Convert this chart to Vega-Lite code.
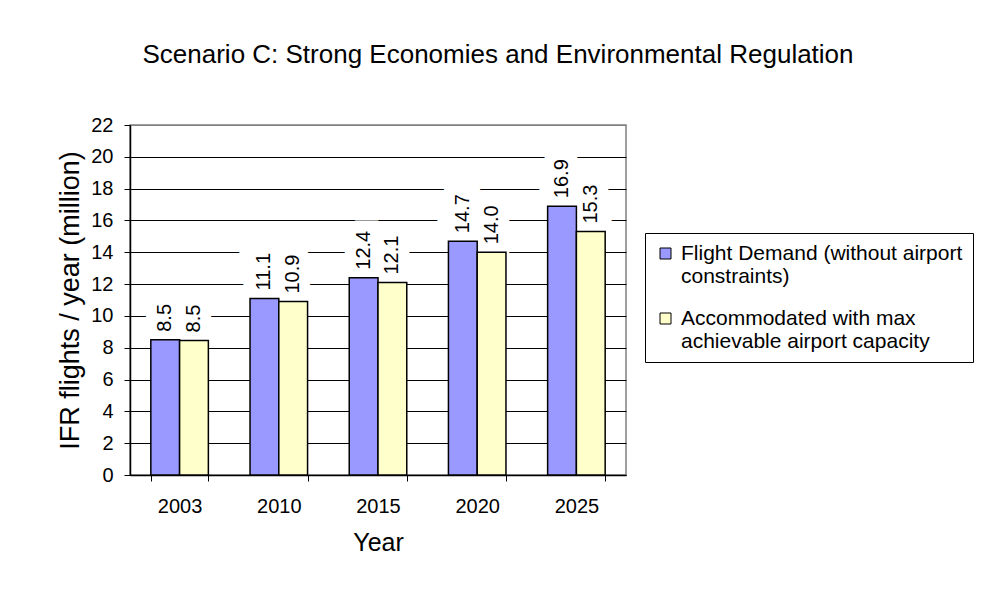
{
  "$schema": "https://vega.github.io/schema/vega-lite/v6.json",
  "width": 496,
  "height": 350,
  "autosize": {"type": "none"},
  "padding": {"left": 130, "top": 125, "right": 358, "bottom": 131},
  "background": "white",
  "title": {
    "text": "Scenario C: Strong Economies and Environmental Regulation",
    "font": "Liberation Sans",
    "fontSize": 26,
    "fontWeight": "normal",
    "color": "black",
    "anchor": "middle",
    "dx": 120,
    "offset": 47
  },
  "config": {
    "view": {"stroke": "#808080", "strokeWidth": 1.5},
    "font": "Liberation Sans"
  },
  "data": {
    "values": [
      {"year": "2003", "series": "Flight Demand (without airport constraints)", "value": 8.5},
      {"year": "2003", "series": "Accommodated with max achievable airport capacity", "value": 8.46},
      {"year": "2010", "series": "Flight Demand (without airport constraints)", "value": 11.1},
      {"year": "2010", "series": "Accommodated with max achievable airport capacity", "value": 10.9},
      {"year": "2015", "series": "Flight Demand (without airport constraints)", "value": 12.4},
      {"year": "2015", "series": "Accommodated with max achievable airport capacity", "value": 12.1},
      {"year": "2020", "series": "Flight Demand (without airport constraints)", "value": 14.7},
      {"year": "2020", "series": "Accommodated with max achievable airport capacity", "value": 14.0},
      {"year": "2025", "series": "Flight Demand (without airport constraints)", "value": 16.9},
      {"year": "2025", "series": "Accommodated with max achievable airport capacity", "value": 15.3}
    ]
  },
  "encoding": {
    "x": {
      "field": "year",
      "type": "nominal",
      "scale": {"paddingInner": 0.42, "paddingOuter": 0.21},
      "axis": {
        "title": "Year",
        "titleFont": "Liberation Sans",
        "titleFontSize": 25,
        "titleFontWeight": "normal",
        "titleColor": "black",
        "titlePadding": 14,
        "labelAngle": 0,
        "labelFont": "Liberation Sans",
        "labelFontSize": 20,
        "labelColor": "black",
        "labelPadding": 15,
        "tickBand": "extent",
        "tickColor": "black",
        "tickSize": 6,
        "domainColor": "black",
        "domainWidth": 1.5,
        "grid": false
      }
    },
    "xOffset": {
      "field": "series",
      "type": "nominal",
      "sort": ["Flight Demand (without airport constraints)", "Accommodated with max achievable airport capacity"],
      "scale": {"paddingInner": 0, "paddingOuter": 0}
    },
    "y": {
      "field": "value",
      "type": "quantitative",
      "scale": {"domain": [0, 22], "nice": false},
      "axis": {
        "title": "IFR flights / year (million)",
        "titleFont": "Liberation Sans",
        "titleFontSize": 27,
        "titleFontWeight": "normal",
        "titleColor": "black",
        "titlePadding": 6,
        "values": [0, 2, 4, 6, 8, 10, 12, 14, 16, 18, 20, 22],
        "labelFont": "Liberation Sans",
        "labelFontSize": 20,
        "labelColor": "black",
        "labelPadding": 11,
        "tickColor": "black",
        "tickSize": 6,
        "domainColor": "black",
        "domainWidth": 1.5,
        "grid": true,
        "gridColor": {"condition": {"test": "datum.value == 22", "value": "#808080"}, "value": "black"},
        "gridWidth": 1,
        "zindex": 0
      }
    }
  },
  "layer": [
    {
      "mark": {"type": "text", "angle": 270, "align": "left", "baseline": "middle", "dx": 8, "fontSize": 20, "font": "Liberation Sans", "fill": "white", "stroke": "white", "strokeWidth": 22},
      "encoding": {"text": {"field": "value", "type": "quantitative", "format": ".1f"}}
    },
    {
      "mark": {"type": "bar", "stroke": "black", "strokeWidth": 1.5},
      "encoding": {
        "color": {
          "field": "series",
          "type": "nominal",
          "scale": {
            "domain": ["Flight Demand (without airport constraints)", "Accommodated with max achievable airport capacity"],
            "range": ["#9999FF", "#FFFFCC"]
          },
          "legend": {
            "title": null,
            "orient": "none",
            "legendX": 515,
            "legendY": 108,
            "strokeColor": "black",
            "fillColor": "white",
            "padding": 10,
            "symbolType": "square",
            "symbolSize": 121,
            "symbolStrokeColor": "black",
            "symbolStrokeWidth": 1,
            "labelFont": "Liberation Sans",
            "labelFontSize": 21,
            "labelColor": "black",
            "labelLimit": 400,
            "labelBaseline": "middle",
            "labelOffset": 5,
            "rowPadding": 20,
            "labelExpr": "datum.label == 'Flight Demand (without airport constraints)' ? ['Flight Demand (without airport', 'constraints)'] : ['Accommodated with max', 'achievable airport capacity']"
          }
        }
      }
    },
    {
      "mark": {"type": "text", "angle": 270, "align": "left", "baseline": "middle", "dx": 8, "fontSize": 20, "font": "Liberation Sans", "color": "black"},
      "encoding": {"text": {"field": "value", "type": "quantitative", "format": ".1f"}}
    }
  ]
}
